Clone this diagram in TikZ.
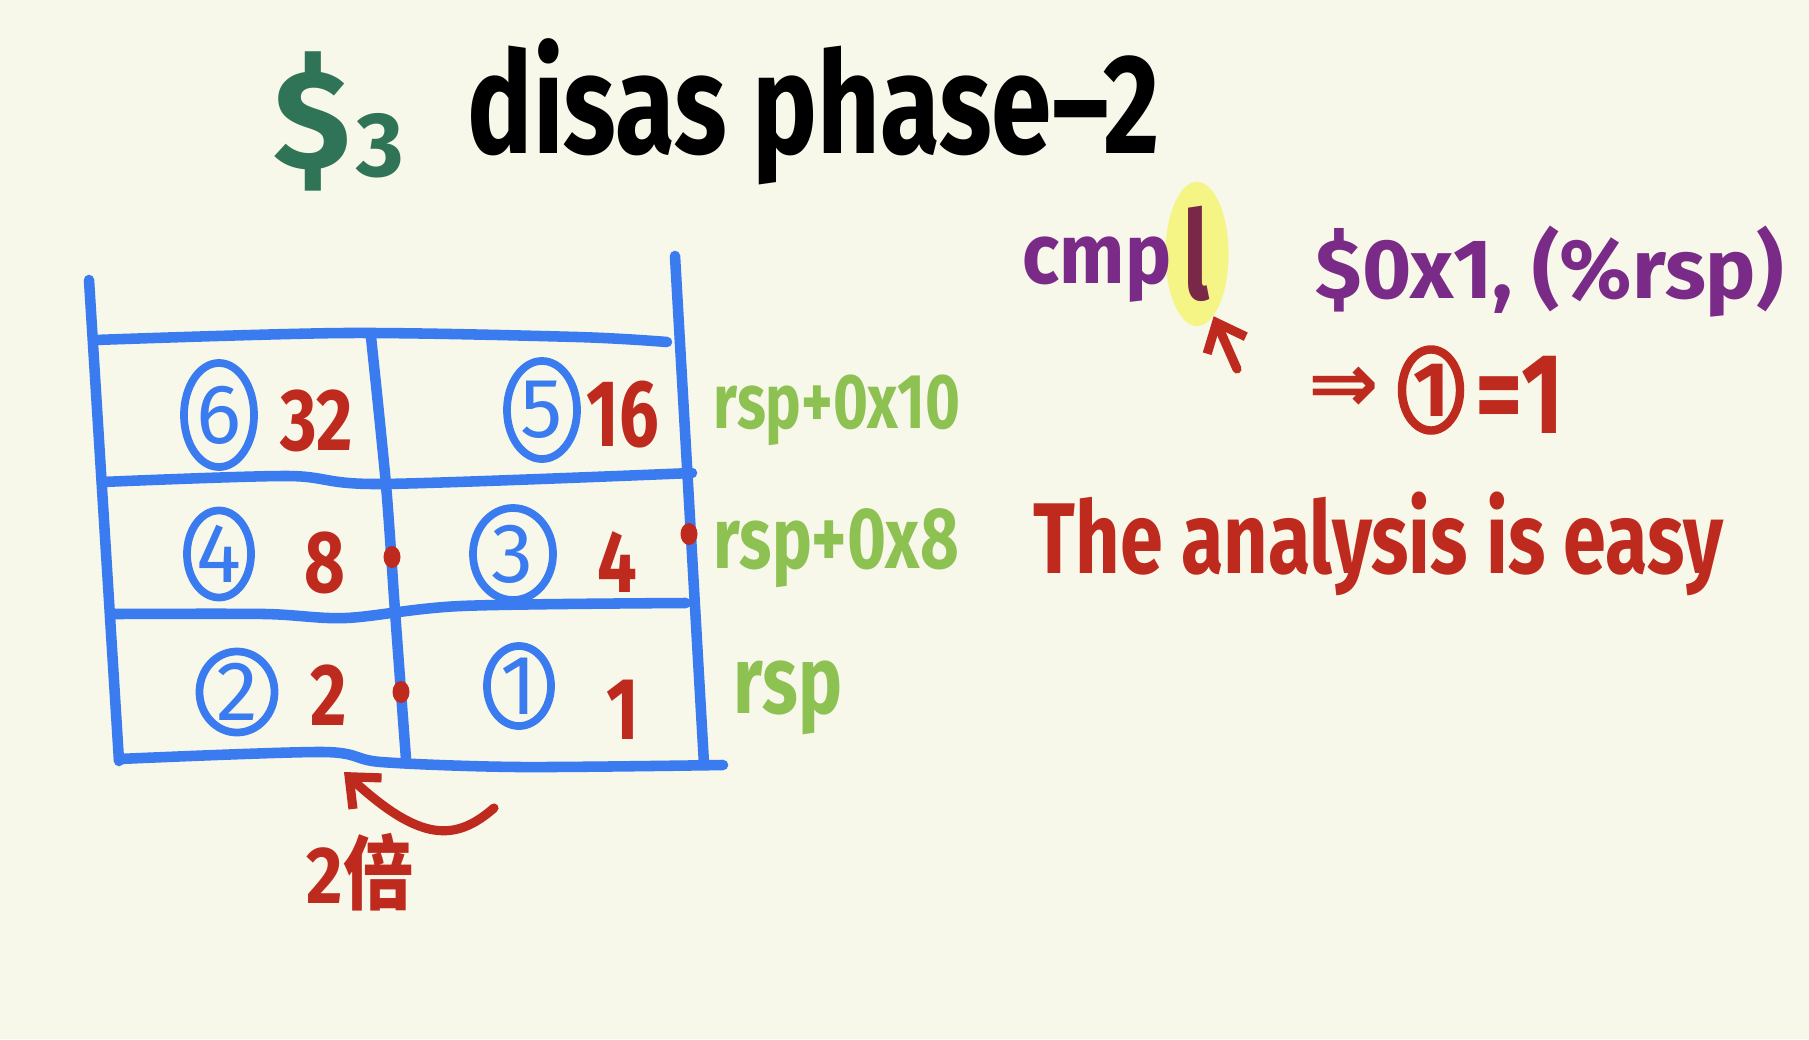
\documentclass[tikz,border=0pt]{standalone}
\usepackage{fontspec}
\setmainfont{Fira Sans}
\newfontfamily\symfont{DejaVu Sans}
\newfontfamily\cjkfont{Noto Sans CJK SC}
\usetikzlibrary{arrows.meta,shapes.geometric}
\definecolor{paper}{HTML}{F7F7EA}
\definecolor{penblue}{HTML}{3A7BF0}
\definecolor{penred}{HTML}{BF2A1F}
\definecolor{pengreen}{HTML}{8DC152}
\definecolor{titlegreen}{HTML}{2F7456}
\definecolor{penpurple}{HTML}{7A2A87}
\definecolor{hlyellow}{HTML}{F5F586}
\definecolor{hlmaroon}{HTML}{7A2848}
\newcommand{\tallt}[2][1.25]{\scalebox{1}[#1]{#2}}

\begin{document}
\begin{tikzpicture}[
    x=0.01cm, y=-0.01cm,
    hand/.style={font=\fontsize{#1}{#1}\selectfont\bfseries, inner sep=0pt},
    grid/.style={draw=penblue, line width=3pt, line cap=round, line join=round},
    slot/.style={
        ellipse, draw=penblue, line width=2.2pt, inner sep=0pt,
        text=penblue, font=\fontsize{24}{24}\selectfont
    },
    val/.style={hand=20, text=penred},
    addr/.style={hand=#1, text=pengreen, anchor=west},
    dot/.style={ellipse, fill=penred, inner sep=0pt,
        minimum width=0.17cm, minimum height=0.22cm},
    arr/.style={penred, line width=2.6pt, line cap=round,
        -{Straight Barb[length=7pt, width=12pt, line width=2.6pt]}}
]
    \useasboundingbox[fill=paper] (0,0) rectangle (1809,1039);

    % Title
    \node[hand=40, text=titlegreen, anchor=base west] (sec) at (273,168) {\$};
    \node[hand=26, text=titlegreen, anchor=base west] (secnum) at (356,176) {3};
    \node[hand=31, anchor=base west] (title) at (467,153) {\tallt[1.3]{disas phase–2}};

    % Stack table
    \draw[grid] (89,280) -- (119,761);
    \draw[grid] (675,256) -- (704,764);
    \draw[grid] plot[smooth] coordinates {(95,340) (346,333) (577,337) (667,342)};
    \draw[grid] plot[smooth] coordinates {(102,482) (288,476) (381,484) (692,473)};
    \draw[grid] plot[smooth] coordinates {(115,614) (265,614) (346,618) (461,606) (686,603)};
    \draw[grid] plot[smooth] coordinates {(119,759) (323,752) (381,762) (519,767) (723,765)};
    \draw[grid] plot[smooth] coordinates {(371,337) (386,485) (395,611) (406,759)};

    % Slots
    \node[slot, minimum width=0.70cm, minimum height=1.04cm] (s6) at (219,415) {6};
    \node[slot, minimum width=0.70cm, minimum height=0.98cm] (s5) at (542,410) {5};
    \node[slot, minimum width=0.64cm, minimum height=0.87cm] (s4) at (219,554) {4};
    \node[slot, minimum width=0.80cm, minimum height=0.92cm] (s3) at (513,554) {3};
    \node[slot, minimum width=0.75cm, minimum height=0.80cm] (s2) at (237,692) {2};
    \node[slot, minimum width=0.64cm, minimum height=0.80cm] (s1) at (519,686) {1};

    % Values
    \node[val] (v32) at (317,421) {\tallt{32}};
    \node[val] (v16) at (623,415) {\tallt[1.35]{16}};
    \node[val] (v8) at (325,563) {\tallt{8}};
    \node[val] (v4) at (617,562) {\tallt{4}};
    \node[val] (v2) at (329,695) {\tallt{2}};
    \node[val] (v1) at (623,710) {\tallt{1}};

    % Marks
    \node[dot] (d1) at (392,557) {};
    \node[dot] (d2) at (689,534) {};
    \node[dot] (d3) at (401,692) {};

    % Addresses
    \node[addr=17] (a10) at (713,410) {\tallt[1.3]{rsp+0x10}};
    \node[addr=19] (a8) at (713,548) {\tallt[1.3]{rsp+0x8}};
    \node[addr=21] (a0) at (733,698) {\tallt[1.3]{rsp}};

    % Instruction
    \node[ellipse, fill=hlyellow, inner sep=0pt, minimum width=0.63cm,
        minimum height=1.44cm, hand=25, text=hlmaroon] (suffix) at (1197,254) {\tallt[1.4]{l}};
    \node[hand=22, text=penpurple, anchor=base west] (cmp) at (1022,283) {\tallt[1.1]{cmp}};
    \node[hand=24, text=penpurple, anchor=base west] (ops) at (1315,298) {\$0x1, (\%rsp)};
    \coordinate (tail) at (1237,369);
    \draw[arr] (tail) -- (suffix.-75);

    % Result
    \node[text=penred, font=\symfont\fontsize{24}{24}\selectfont\bfseries,
        inner sep=0pt] (imp) at (1344,390) {⇒};
    \node[ellipse, draw=penred, line width=2.4pt, inner sep=0pt,
        minimum width=0.58cm, minimum height=0.81cm,
        hand=22, text=penred] (c1) at (1431,390) {1};
    \node[hand=26, text=penred] (eq) at (1520,395) {\tallt{=1}};

    % Remark
    \node[hand=22, text=penred, anchor=base west] (note) at (1033,573)
        {\tallt[1.3]{The analysis is easy}};

    % Growth
    \coordinate (swing) at (494,808);
    \coordinate (bot) at (344,772);
    \draw[arr] (swing) .. controls (455,842) and (420,842) .. (bot);
    \node[hand=20, text=penred, anchor=base west] (twice) at (306,903)
        {\tallt[1.15]{2{\cjkfont\bfseries 倍}}};

\end{tikzpicture}
\end{document}
